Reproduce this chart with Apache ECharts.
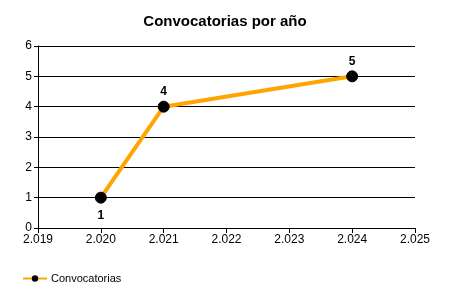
<!DOCTYPE html>
<html><head><meta charset="utf-8">
<script src="https://cdn.jsdelivr.net/npm/echarts@6/dist/echarts.min.js"></script>
<style>html,body{margin:0;padding:0;background:#fff}#c{width:450px;height:300px}</style>
</head><body><div id="c"></div>
<script>
const years = [2020, 2021, 2024];
const values = [1, 4, 5];
const labelPos = ['bottom', 'top', 'top'];
const seriesName = 'Convocatorias';
const titleText = 'Convocatorias por año';

const chart = echarts.init(document.getElementById('c'), null, {renderer: 'canvas'});
const fmtYear = v => { const s = String(v); return s.slice(0,1) + '.' + s.slice(1); };
const font = 'Liberation Sans, Arial, sans-serif';
chart.setOption({
  animation: false,
  backgroundColor: '#fff',
  textStyle: {fontFamily: font},
  title: {text: titleText, left: 'center', top: 9,
    textStyle: {fontSize: 15, fontWeight: 'bold', color: '#000', fontFamily: font}},
  grid: {left: 38, right: 35, top: 46, bottom: 72, containLabel: false},
  legend: {left: 17, top: 268, itemWidth: 24, itemHeight: 8, itemGap: 10,
    data: [{name: seriesName}],
    textStyle: {fontSize: 11, color: '#000', fontFamily: font, padding: [0, 0, 0, -1]}},
  xAxis: {type: 'value', min: 2019, max: 2025, interval: 1,
    axisLine: {onZero: false, lineStyle: {color: '#000', width: 1}},
    axisTick: {show: true, length: 5, lineStyle: {color: '#000'}},
    axisLabel: {formatter: fmtYear, color: '#000', fontSize: 12, margin: 6, fontFamily: font},
    splitLine: {show: false}},
  yAxis: {type: 'value', min: 0, max: 6, interval: 1,
    axisLine: {show: true, lineStyle: {color: '#000', width: 1}},
    axisTick: {show: true, length: 4, lineStyle: {color: '#000'}},
    axisLabel: {color: '#000', fontSize: 12, margin: 6, fontFamily: font},
    splitLine: {show: true, lineStyle: {color: '#000', width: 1}}},
  series: [{
    name: seriesName, type: 'line',
    data: years.map((y, i) => ({value: [y, values[i]], label: {position: labelPos[i], distance: labelPos[i] === 'top' ? 3 : 6}})),
    lineStyle: {color: '#FFA500', width: 4},
    itemStyle: {color: '#000', borderColor: '#000'},
    symbol: 'circle', symbolSize: 11,
    label: {show: true, color: '#000', fontWeight: 'bold', fontSize: 12, fontFamily: font,
      formatter: p => p.value[1]}
  }]
});
</script></body></html>
